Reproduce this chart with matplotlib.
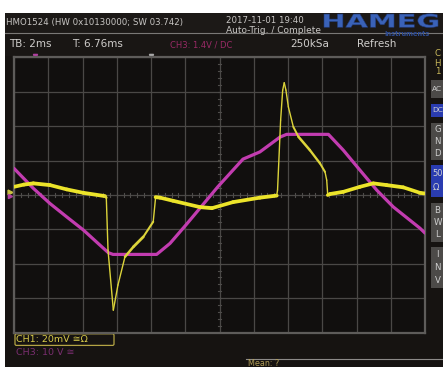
import numpy as np
import matplotlib
matplotlib.use("Agg")
import matplotlib.pyplot as plt
from matplotlib.collections import LineCollection
from matplotlib.patches import Rectangle, FancyBboxPatch, PathPatch
from matplotlib.textpath import TextPath
from matplotlib.font_manager import FontProperties
from matplotlib.transforms import Affine2D

# Acquisition settings
TB_MS = 2.0        # time base, ms/div
CH1_MV = 20.0      # CH1 scale, mV/div
CH3_V = 10.0       # CH3 scale, V/div

# CH1 (yellow) trace: time in ms, amplitude in mV
t_ch1 = [-12.00, -11.42, -10.87, -9.90, -8.92, -7.95, -6.69, -6.61, -6.51, -6.20,
         -5.93, -5.52, -5.03, -4.45, -3.87, -3.73, -3.47, -2.72, -1.14, -0.44,
         0.79, 2.36, 3.34, 3.39, 3.57, 3.69, 3.78, 3.88, 4.02, 4.31,
         4.61, 5.28, 5.87, 6.16, 6.26, 6.32, 6.45, 7.23, 8.20, 8.98,
         9.76, 10.73, 11.71, 12.00]
v_ch1 = [4.7, 6.0, 6.7, 5.7, 3.2, 1.2, -0.7, -1.6, -32.1, -67.0,
         -52.4, -36.0, -30.2, -24.4, -15.6, -1.3, -1.6, -3.4, -7.1, -7.7,
         -4.2, -1.6, -0.4, 2.8, 43.5, 60.9, 65.2, 60.9, 51.2, 39.6,
         33.8, 26.0, 18.3, 13.4, 8.6, -0.1, 0.5, 1.8, 4.7, 6.7,
         5.7, 4.4, 1.2, 0.8]

# CH3 (magenta) trace: time in ms, amplitude in V
t_ch3 = [-12.00, -10.87, -9.90, -8.92, -7.95, -6.98, -6.49, -6.22, -3.67, -2.89,
         -1.92, -0.09, 1.37, 2.36, 2.77, 3.53, 3.92, 6.36, 7.23, 8.20,
         9.18, 10.15, 11.71, 12.00]
v_ch3 = [7.7, 1.9, -2.5, -6.4, -10.2, -14.6, -16.8, -17.3, -17.3, -14.1,
         -8.5, 2.4, 10.4, 12.5, 14.0, 16.8, 17.6, 17.6, 13.0, 7.2,
         1.4, -3.5, -9.7, -11.1]

# Side menu buttons: label, top, bottom, highlighted
buttons = [("AC", 80, 98, False), ("DC", 104, 117, True), ("GND", 123, 160, False),
           ("50Ω", 165, 197, True), ("BWL", 203, 242, False), ("INV", 247, 288, False)]

W, H = 443, 367
plt.rcParams["font.family"] = ["DejaVu Sans"]
fig = plt.figure(figsize=(W / 100, H / 100), dpi=100, facecolor="white")

# ---- screen furniture in pixel space ----
bg = fig.add_axes([0, 0, 1, 1])
bg.set_xlim(0, W)
bg.set_ylim(H, 0)
bg.axis("off")

bg.add_patch(Rectangle((5, 13), W - 5, H - 13, color="#161311", lw=0))
bg.add_patch(Rectangle((5, 13), W - 5, 20, color="#1c1917", lw=0))
bg.add_patch(Rectangle((5, 34), W - 5, 22, color="#191614", lw=0))
bg.plot([5, W], [33.3, 33.3], color="#7a7876", lw=0.8)

hdr = "#c8c6c4"
bg.text(6, 22.5, "HMO1524 (HW 0x10130000; SW 03.742)", fontsize=6.2, color=hdr, va="center")
bg.text(226, 20.8, "2017-11-01 19:40", fontsize=6.2, color=hdr, va="center")
bg.text(226, 30.3, "Auto-Trig. / Complete", fontsize=6.5, color=hdr, va="center")

# maker logo, stretched block lettering
logo = TextPath((0, 0), "HAMEG", size=10, prop=FontProperties(family="DejaVu Sans", weight="bold"))
lb = logo.get_extents()
lx0, lx1, ly0, ly1 = 324, 438, 13.8, 27.5
logo_tr = (Affine2D().translate(-lb.x0, -lb.y0)
           .scale((lx1 - lx0) / lb.width, -(ly1 - ly0) / lb.height)
           .translate(lx0, ly1))
bg.add_patch(PathPatch(logo_tr.transform_path(logo), fc="#3a62b8", ec="#203a78", lw=0.4))
bg.text(407, 34.3, "Instruments", fontsize=4.8, fontweight="bold", color="#2c4a92",
        ha="center", va="center")

bar = "#cfcdcb"
bg.text(9, 44, "TB: 2ms", fontsize=7.5, color=bar, va="center")
bg.text(72, 44, "T: 6.76ms", fontsize=7.5, color=bar, va="center")
bg.text(170, 44.5, "CH3: 1.4V / DC", fontsize=6.0, color="#9a2a66", va="center")
bg.text(290, 44, "250kSa", fontsize=7.5, color=bar, va="center")
bg.text(357, 44, "Refresh", fontsize=7.5, color=bar, va="center")

# channel tag on the side menu
for i, ch in enumerate("CH1"):
    bg.text(437.5, 54 + i * 9, ch, fontsize=6.2, color="#c9b85a", ha="center", va="center")

for label, top, bot, hi in buttons:
    bg.add_patch(Rectangle((431.5, top), 14, bot - top,
                           color="#2a3cb0" if hi else "#4c4a48", lw=0))
    if label in ("AC", "DC"):
        bg.text(432, (top + bot) / 2, label, fontsize=5.4, color="#d0d0d0", va="center")
    elif label == "50Ω":
        bg.text(432.5, top + 9, "50", fontsize=6.0, color="#d0d0d0", va="center")
        bg.text(433, top + 22, "Ω", fontsize=6.0, color="#d0d0d0", va="center")
    else:
        step = (bot - top) / (len(label) + 0.2)
        for j, ch in enumerate(label):
            bg.text(437.5, top + step * (j + 0.6), ch, fontsize=6.2, color="#cfcfcf",
                    ha="center", va="center")

# bottom status area
bg.add_patch(FancyBboxPatch((15, 333.8), 99, 11.6, boxstyle="round,pad=0,rounding_size=1.5",
                            fc="none", ec="#b4a444", lw=0.9))
bg.text(16.5, 339.8, "CH1: 20mV ≅Ω", fontsize=6.8, color="#d8cb4a", va="center")
bg.text(16.5, 352.5, "CH3: 10 V ≅", fontsize=6.8, color="#7a2e70", va="center")
bg.plot([246, W], [358.5, 358.5], color="#8c8a88", lw=0.8)
bg.text(248, 363, "Mean: ?", fontsize=5.8, color="#b29e58", va="center")

# small position markers around the graticule
bg.plot([35], [55.5], marker="v", ms=3, color="#b040a0", ls="none")
bg.plot([151], [55.5], marker="v", ms=3, color="#a8a8a8", ls="none")
bg.plot([10], [191.5], marker=">", ms=3.5, color="#c8c040", ls="none")
bg.plot([10], [196], marker=">", ms=3, color="#b040a0", ls="none")
bg.plot([422], [89], marker="^", ms=2.8, color="#e8e8e8", ls="none")
bg.plot([422], [191], marker="v", ms=2.8, color="#e8e8e8", ls="none")

# ---- graticule and traces ----
ax = fig.add_axes([14 / W, (H - 332.5) / H, 411 / W, 275.2 / H])
ax.set_facecolor("#110f0e")
ax.set_xlim(-6 * TB_MS, 6 * TB_MS)
ax.set_ylim(-4, 4)
ax.set_xticks(np.arange(-6, 7) * TB_MS)
ax.set_yticks(np.arange(-4, 5))
ax.grid(True, color="#4a4846", lw=0.9)
ax.tick_params(length=0, labelbottom=False, labelleft=False)
for sp in ax.spines.values():
    sp.set_color("#5e5c5a")
    sp.set_linewidth(1.6)

# fine ticks on the centre cross
for xt in np.arange(-6, 6.01, 0.2) * TB_MS:
    ax.plot([xt, xt], [-0.05, 0.05], color="#4e4c4a", lw=0.8)
for yt in np.arange(-4, 4.01, 0.2):
    ax.plot([-0.09, 0.09], [yt, yt], color="#4e4c4a", lw=0.8)

# CH3 trace
ax.plot(t_ch3, np.array(v_ch3) / CH3_V, color="#c23cb0", lw=2.3, solid_joinstyle="round",
        solid_capstyle="round", zorder=3)

# CH1 trace: noisy slow segments render thick, fast edges thin
tx = np.array(t_ch1) / TB_MS * 34.25
ty = np.array(v_ch1) / CH1_MV * 34.4
pts = np.column_stack([t_ch1, np.array(v_ch1) / CH1_MV])
segs = np.stack([pts[:-1], pts[1:]], axis=1)
slope = np.abs(np.diff(ty) / np.maximum(np.diff(tx), 1e-6))
widths = np.interp(slope, [0, 0.5, 1.5, 4.0], [2.8, 2.5, 1.5, 1.0])
colors = ["#ece42a" if s < 1.0 else "#dcd43a" for s in slope]
ax.add_collection(LineCollection(segs, linewidths=widths, colors=colors,
                                 capstyle="round", joinstyle="round", zorder=4))

fig.savefig("out.png", dpi=100, facecolor="white")
